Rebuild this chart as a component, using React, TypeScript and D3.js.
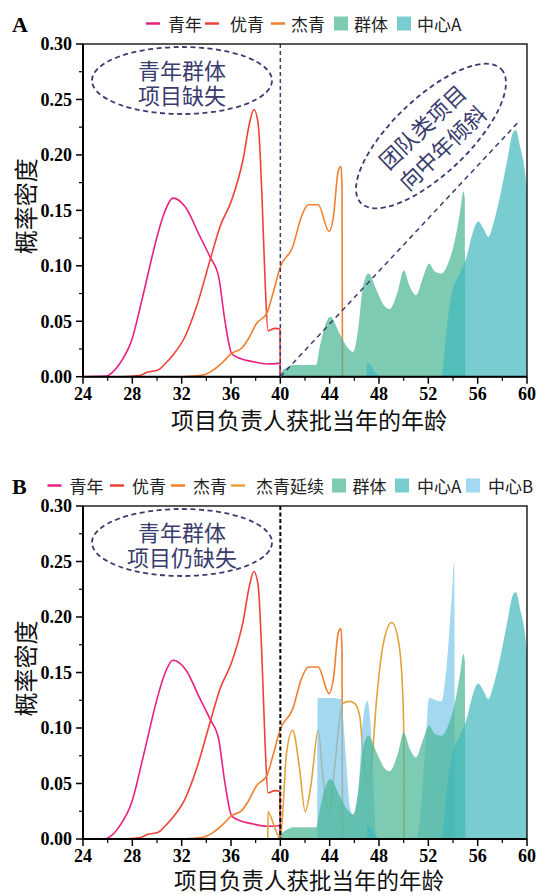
import React from 'react';
import * as d3 from 'd3';

type P = [number, number];

// ---------- data (age, density) ----------
const youth: P[] = [
  [24, 0], [25.9, 0.0005], [26.3, 0.003], [26.9, 0.0105], [27.95, 0.033], [28.9, 0.075],
  [30, 0.126], [30.6, 0.148], [31.3, 0.161], [32.3, 0.153], [33.5, 0.126], [34.3, 0.108],
  [35, 0.09], [35.5, 0.051], [36.05, 0.021], [36.7, 0.0166], [37.8, 0.0135], [38.9, 0.0115],
  [39.8, 0.012], [39.97, 0.0124], [40.0, 0],
];
const excellent: P[] = [
  [27, 0], [28.6, 0.001], [29.2, 0.004], [30.1, 0.006], [30.6, 0.011], [31.3, 0.0196],
  [32.27, 0.036], [33.2, 0.063], [34.3, 0.105], [35.1, 0.135], [36.05, 0.159], [37.0, 0.197],
  [37.5, 0.2285], [37.86, 0.241], [38.2, 0.2285], [38.5, 0.166], [38.75, 0.09], [39.0, 0.0415],
  [39.56, 0.0436], [39.97, 0.043], [40.0, 0],
];
const distinguished: P[] = [
  [32.1, 0], [33.7, 0.0015], [34.56, 0.006], [35.37, 0.0135], [36.05, 0.021], [36.86, 0.0256],
  [37.4, 0.034], [38.07, 0.048], [38.9, 0.057], [39.4, 0.075], [40.0, 0.099], [41.0, 0.117],
  [41.7, 0.144], [42.26, 0.155], [43.07, 0.155], [43.95, 0.131], [44.3, 0.144], [44.7, 0.186],
  [44.92, 0.1895], [45.0, 0.17], [45.04, 0],
];
const continued: P[] = [
  [38.98, 0], [39.0, 0.0246], [39.5, 0.012], [40.0, 0], [40.5, 0.077], [41.0, 0.098],
  [41.54, 0.065], [42.02, 0.0246], [42.5, 0.05], [43.07, 0.098], [43.5, 0.05], [43.98, 0.0246],
  [44.4, 0.065], [45.05, 0.122], [45.6, 0.124], [46.04, 0.122], [46.45, 0.11], [46.7, 0.078],
  [47.05, 0.049], [47.4, 0.068], [47.8, 0.125], [48.35, 0.176], [49.03, 0.195], [49.57, 0.179],
  [49.9, 0.137], [50.0, 0.101], [50.03, 0],
];
const group: P[] = [
  [40.0, 0], [40.05, 0.004], [40.5, 0.008], [41.0, 0.0105], [42.9, 0.0105], [43.2, 0.027],
  [43.6, 0.045], [44.05, 0.054], [44.8, 0.039], [45.5, 0.0256], [45.9, 0.0222], [46.3, 0.042],
  [46.7, 0.081], [47.15, 0.093], [47.8, 0.078], [48.5, 0.063], [48.85, 0.061], [49.55, 0.078],
  [50.0, 0.096], [50.5, 0.081], [51.0, 0.0735], [51.58, 0.09], [52.07, 0.102], [52.5, 0.095],
  [53.07, 0.093], [53.6, 0.102], [54.15, 0.123], [54.55, 0.147], [54.85, 0.167], [54.96, 0.16],
  [55.0, 0],
];
const centerA: P[] = [
  [46.99, 0], [47.03, 0.0126], [48.1, 0], [53.07, 0], [53.5, 0.045], [53.9, 0.075],
  [54.55, 0.093], [55.1, 0.108], [55.5, 0.126], [56.04, 0.14], [56.45, 0.134], [56.86, 0.126],
  [57.27, 0.138], [57.8, 0.162], [58.35, 0.1925], [58.9, 0.221], [59.1, 0.2225], [59.44, 0.2075],
  [59.85, 0.1835], [60, 0.167],
];
const centerB: P[] = [
  [42.98, 0], [43.03, 0.127], [44.0, 0.127], [44.96, 0.126], [45.15, 0.1], [45.37, 0.065],
  [45.64, 0.029], [45.9, 0.0216], [46.3, 0.041], [46.7, 0.107], [47.05, 0.1246], [47.3, 0.105],
  [47.5, 0.065], [47.8, 0], [51.05, 0], [51.8, 0.09], [52.05, 0.127], [52.4, 0.126],
  [53.07, 0.124], [53.5, 0.158], [53.9, 0.218], [54.1, 0.25], [54.15, 0],
];

const xTicks = [24, 28, 32, 36, 40, 44, 48, 52, 56, 60];
const xMinor = [26, 30, 34, 38, 42, 46, 50, 54, 58];
const yTicks = [0, 0.05, 0.1, 0.15, 0.2, 0.25, 0.3];
const yMinor = [0.025, 0.075, 0.125, 0.175, 0.225, 0.275];

const legendNamesA = ['青年', '优青', '杰青', '群体', '中心A'];
const legendNamesB = ['青年', '优青', '杰青', '杰青延续', '群体', '中心A', '中心B'];
const xLabel = '项目负责人获批当年的年龄';
const yLabel = '概率密度';

// ---------- style ----------
const COL: Record<string, string> = {
  青年: '#E8207F',
  优青: '#EE4238',
  杰青: '#F07F2E',
  杰青延续: '#E3A23A',
  群体: '#47B594',
  中心A: '#40B8BC',
  中心B: '#7CC7EA',
};
const AREA_OP = 0.7;
const NAVY = '#3a3c6e';
const CJK = '"Noto Sans CJK SC", sans-serif';
const SERIF = '"Liberation Serif", "Times New Roman", serif';

const W = 537;
const H = 895;
const X0 = 83;
const X1 = 527;
const xs = d3.scaleLinear().domain([24, 60]).range([X0, X1]);

// legend layout (marker x, text x)
const legendLayoutA = [[146, 168], [205, 230], [271, 291], [334, 354], [397, 417]];
const legendLayoutB = [[47.5, 69.5], [110, 132], [171, 193], [231, 256], [332, 352.5], [395, 417], [466, 488]];

function Panel({ yTop, yBot, isB }: { yTop: number; yBot: number; isB: boolean }) {
  const ys = d3.scaleLinear().domain([0, 0.3]).range([yBot, yTop]);
  const line = d3.line<P>().x(d => xs(d[0])).y(d => ys(d[1])).curve(d3.curveMonotoneX);
  const area = d3
    .area<P>()
    .x(d => xs(d[0]))
    .y0(ys(0))
    .y1(d => ys(d[1]))
    .curve(d3.curveMonotoneX);
  const clipId = isB ? 'clipB' : 'clipA';
  const off = isB ? 462 : 0;

  const lines: [string, P[]][] = isB
    ? [['青年', youth], ['优青', excellent], ['杰青', distinguished], ['杰青延续', continued]]
    : [['青年', youth], ['优青', excellent], ['杰青', distinguished]];
  const areas: [string, P[]][] = isB
    ? [['中心B', centerB], ['群体', group], ['中心A', centerA]]
    : [['群体', group], ['中心A', centerA]];

  const names = isB ? legendNamesB : legendNamesA;
  const layout = isB ? legendLayoutB : legendLayoutA;
  const legY = isB ? 485.5 : 23.5;
  const midY = (yTop + yBot) / 2;

  return (
    <g>
      <defs>
        <clipPath id={clipId}>
          <rect x={X0} y={yTop} width={X1 - X0} height={yBot - yTop} />
        </clipPath>
      </defs>
      {/* panel letter */}
      <text x={12} y={isB ? 494 : 32} fontFamily={SERIF} fontWeight="bold" fontSize={22} fill="#000">
        {isB ? 'B' : 'A'}
      </text>
      {/* legend */}
      {names.map((n, i) => {
        const [mx, tx] = layout[i];
        const isArea = n === '群体' || n.startsWith('中心');
        return (
          <g key={n}>
            {isArea ? (
              <rect x={mx} y={legY - 7} width={14} height={14} fill={COL[n]} fillOpacity={AREA_OP} />
            ) : (
              <line x1={mx} x2={mx + 14} y1={legY} y2={legY} stroke={COL[n]} strokeWidth={2.5} />
            )}
            <text x={tx} y={legY} dominantBaseline="central" fontFamily={CJK} fontSize={17} fill="#222">
              {n}
            </text>
          </g>
        );
      })}

      <g clipPath={`url(#${clipId})`}>
        {lines.map(([n, d]) => (
          <path key={n} d={line(d) || ''} fill="none" stroke={COL[n]} strokeWidth={1.6} />
        ))}
        {areas.map(([n, d]) => (
          <path key={n} d={area(d) || ''} fill={COL[n]} fillOpacity={AREA_OP} stroke="none" />
        ))}
      </g>

      {/* 40 divider */}
      <line
        x1={xs(40)}
        x2={xs(40)}
        y1={yTop}
        y2={yBot}
        stroke={isB ? '#000' : NAVY}
        strokeWidth={isB ? 2 : 1.5}
        strokeDasharray={isB ? '4 2.5' : '4 3'}
      />

      {/* frame */}
      <rect x={X0} y={yTop} width={X1 - X0} height={yBot - yTop} fill="none" stroke="#000" strokeWidth={1.3} />
      <line x1={X0} x2={X0} y1={yTop} y2={yBot} stroke="#000" strokeWidth={2} />
      <line x1={X0} x2={X1} y1={yBot} y2={yBot} stroke="#000" strokeWidth={2} />

      {/* y ticks */}
      {yTicks.map(t => (
        <g key={t}>
          <line x1={X0 - 7} x2={X0} y1={ys(t)} y2={ys(t)} stroke="#000" strokeWidth={1.5} />
          <text
            x={72}
            y={ys(t)}
            dy="0.35em"
            textAnchor="end"
            fontFamily={SERIF}
            fontWeight="bold"
            fontSize={18}
            fill="#000"
          >
            {t.toFixed(2)}
          </text>
        </g>
      ))}
      {yMinor.map(t => (
        <line key={t} x1={X0 - 4} x2={X0} y1={ys(t)} y2={ys(t)} stroke="#000" strokeWidth={1.2} />
      ))}
      {/* x ticks */}
      {xTicks.map(t => (
        <g key={t}>
          <line x1={xs(t)} x2={xs(t)} y1={yBot} y2={yBot + 7} stroke="#000" strokeWidth={1.5} />
          <text
            x={xs(t)}
            y={yBot + 23}
            textAnchor="middle"
            fontFamily={SERIF}
            fontWeight="bold"
            fontSize={18}
            fill="#000"
          >
            {t}
          </text>
        </g>
      ))}
      {xMinor.map(t => (
        <line key={t} x1={xs(t)} x2={xs(t)} y1={yBot} y2={yBot + 4} stroke="#000" strokeWidth={1.2} />
      ))}

      {/* axis titles */}
      <text
        x={309}
        y={isB ? yBot + 49.5 : yBot + 52}
        textAnchor="middle"
        fontFamily={CJK}
        fontSize={isB ? 22.5 : 23}
        fill="#111"
      >
        {xLabel}
      </text>
      <text
        transform={`translate(24,${midY - 4}) rotate(-90)`}
        textAnchor="middle"
        dominantBaseline="central"
        fontFamily={CJK}
        fontSize={24}
        fill="#111"
      >
        {yLabel}
      </text>

      {/* annotation ellipse */}
      <ellipse
        cx={182}
        cy={80.5 + off}
        rx={90}
        ry={33.5}
        fill="none"
        stroke={NAVY}
        strokeWidth={1.8}
        strokeDasharray="5 3.5"
      />
      <text x={182} y={69 + off} textAnchor="middle" dominantBaseline="central" fontFamily={CJK} fontSize={22} fill={NAVY}>
        青年群体
      </text>
      <text x={182} y={94 + off} textAnchor="middle" dominantBaseline="central" fontFamily={CJK} fontSize={22} fill={NAVY}>
        {isB ? '项目仍缺失' : '项目缺失'}
      </text>

      {!isB && (
        <g>
          <line
            x1={xs(40)}
            y1={ys(0)}
            x2={xs(59.25)}
            y2={ys(0.229)}
            stroke={NAVY}
            strokeWidth={1.5}
            strokeDasharray="5 4"
          />
          <g transform="translate(431,136) rotate(-43.6)">
            <ellipse cx={0} cy={0} rx={97} ry={38} fill="none" stroke={NAVY} strokeWidth={1.8} strokeDasharray="5 3.5" />
            <text x={0} y={-14} textAnchor="middle" dominantBaseline="central" fontFamily={CJK} fontSize={22} fill={NAVY}>
              团队类项目
            </text>
            <text x={0} y={15} textAnchor="middle" dominantBaseline="central" fontFamily={CJK} fontSize={22} fill={NAVY}>
              向中年倾斜
            </text>
          </g>
        </g>
      )}
    </g>
  );
}

export default function App() {
  return (
    <svg
      width={W}
      height={H}
      viewBox={`0 0 ${W} ${H}`}
      style={{ position: 'absolute', left: 0, top: 0, background: '#fff' }}
    >
      <rect x={0} y={0} width={W} height={H} fill="#fff" />
      <Panel yTop={44} yBot={376.7} isB={false} />
      <Panel yTop={506} yBot={839} isB={true} />
    </svg>
  );
}
